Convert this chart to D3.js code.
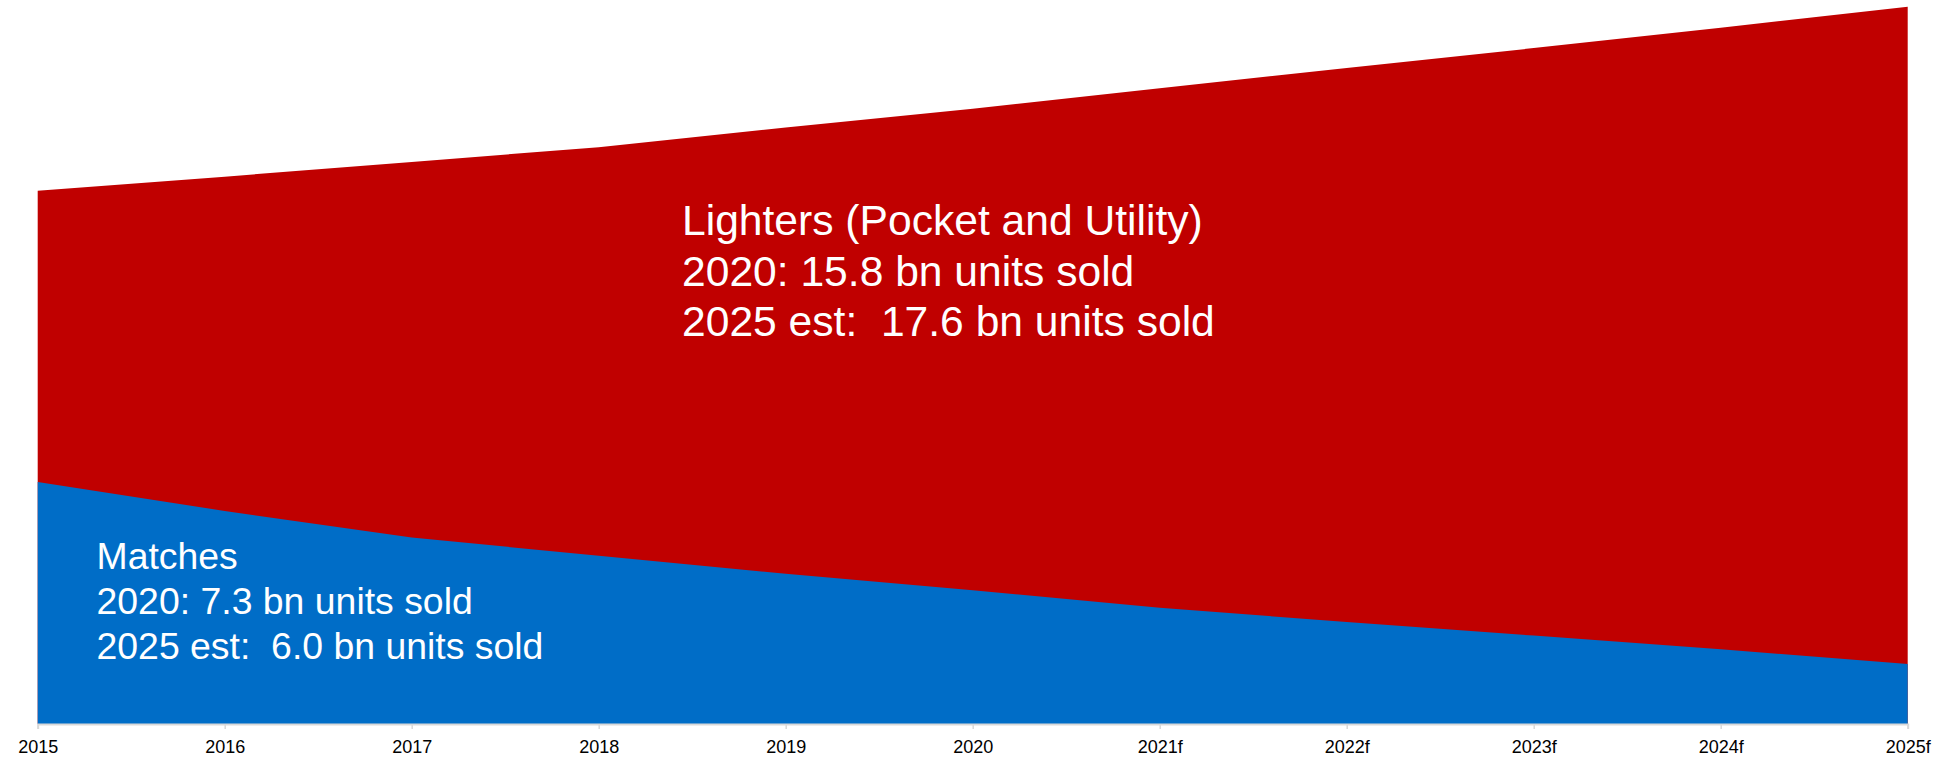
<!DOCTYPE html>
<html>
<head>
<meta charset="utf-8">
<script src="https://cdn.jsdelivr.net/npm/d3@7"></script>
<style>
  html, body { margin: 0; padding: 0; background: #ffffff; }
  svg { display: block; font-family: Arial, "Liberation Sans", sans-serif; }
</style>
</head>
<body>
<svg id="chart" width="1939" height="757"></svg>
<script>
// Years on the horizontal axis (forecast years carry an "f")
const years = ["2015", "2016", "2017", "2018", "2019", "2020", "2021f", "2022f", "2023f", "2024f", "2025f"];

// Units sold, billions
const lighters = [14.35, 14.6, 14.86, 15.12, 15.47, 15.8, 16.16, 16.52, 16.87, 17.23, 17.6];
const matches  = [9.21, 8.7, 8.23, 7.91, 7.59, 7.3, 6.99, 6.74, 6.5, 6.26, 6.0];

// Value axis floor and ceiling (the axis is not zero-based)
const yDomain = [4.94, 17.6];

const lighterLines = ["Lighters (Pocket and Utility)"];
const matchLines = ["Matches"];

const svg = d3.select("#chart");
const W = 1939, H = 757;
const margin = { left: 37.7, right: 31.3, top: 6.7, bottom: 33 };

const x = d3.scalePoint()
  .domain(years)
  .range([margin.left, W - margin.right]);

const y = d3.scaleLinear()
  .domain(yDomain)
  .range([H - margin.bottom, margin.top]);

const rows = years.map((yr, i) => ({ year: yr, lighters: lighters[i], matches: matches[i] }));

const areaFor = key => d3.area()
  .x(d => x(d.year))
  .y0(y(yDomain[0]))
  .y1(d => y(d[key]));

// Lighters drawn first, matches overlaid in front
svg.append("path")
  .datum(rows)
  .attr("fill", "#C00000")
  .attr("d", areaFor("lighters"));

svg.append("path")
  .datum(rows)
  .attr("fill", "#006DC7")
  .attr("d", areaFor("matches"));

// Category axis along the bottom
const axis = svg.append("g")
  .attr("transform", `translate(0,${y(yDomain[0])})`)
  .call(d3.axisBottom(x).tickSize(5).tickPadding(11));

axis.select(".domain")
  .attr("stroke", "#d9d9d9")
  .attr("stroke-width", 2);
axis.selectAll(".tick line")
  .attr("stroke", "#d9d9d9")
  .attr("stroke-width", 1.5);
axis.selectAll(".tick text")
  .attr("fill", "#000000")
  .attr("font-size", 18)
  .attr("font-family", "Arial, 'Liberation Sans', sans-serif");

// Annotations built from the series values
const i2020 = years.indexOf("2020");
const i2025 = years.indexOf("2025f");

function note(lines, series, px, py, size, lineGap) {
  const all = lines.concat([
    `2020: ${series[i2020].toFixed(1)} bn units sold`,
    `2025 est:  ${series[i2025].toFixed(1)} bn units sold`
  ]);
  const t = svg.append("text")
    .attr("x", px)
    .attr("y", py)
    .attr("fill", "#ffffff")
    .attr("font-size", size)
    .attr("xml:space", "preserve")
    .style("white-space", "pre");
  all.forEach((s, k) => {
    t.append("tspan")
      .attr("x", px)
      .attr("y", py + k * lineGap)
      .text(s);
  });
}

note(lighterLines, lighters, 682, 235, 42.6, 50.7);
note(matchLines, matches, 96.5, 569, 37.4, 44.8);
</script>
</body>
</html>
